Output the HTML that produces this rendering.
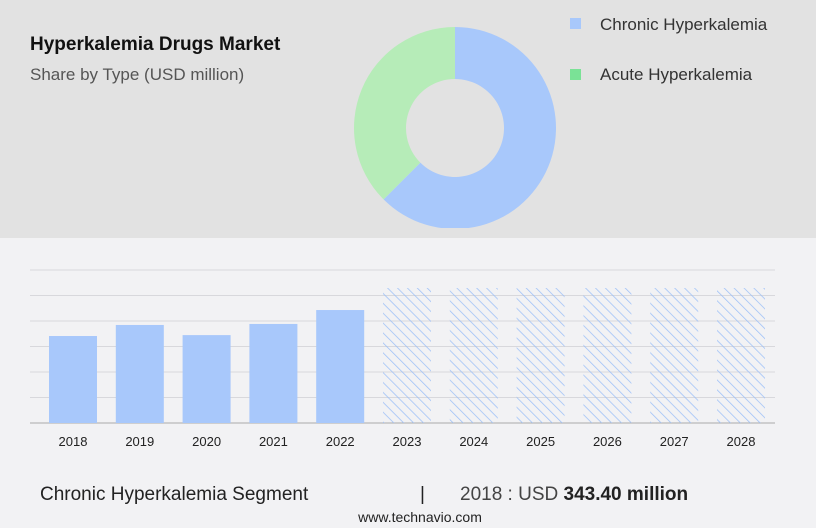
<!DOCTYPE html>
<html><head><meta charset="utf-8"><style>
body{margin:0;width:816px;height:528px;overflow:hidden;background:#f2f2f4;font-family:"Liberation Sans",sans-serif;}
#top{position:absolute;left:0;top:0;width:816px;height:238px;background:#e2e2e2;}
</style></head><body>
<div id="top"></div>
<svg width="816" height="528" style="position:absolute;left:0;top:0" id="svg">
<defs><pattern id="hatch" width="7" height="7" patternUnits="userSpaceOnUse" patternTransform="rotate(-45)"><line x1="0" y1="0" x2="0" y2="7" stroke="#9cbff8" stroke-width="1.5"/></pattern></defs>
<text x="30" y="50" font-size="19" font-weight="bold" fill="#111">Hyperkalemia Drugs Market</text>
<text x="30" y="80" font-size="17" fill="#555">Share by Type (USD million)</text>
<g id="donut"></g>
<rect x="570" y="18" width="11" height="11" fill="#a8c8fb"/>
<text x="600" y="30" font-size="17" fill="#333">Chronic Hyperkalemia</text>
<rect x="570" y="69" width="11" height="11" fill="#7ae296"/>
<text x="600" y="80" font-size="17" fill="#333">Acute Hyperkalemia</text>
<g id="grid"></g><g id="bars"></g>
<text x="40" y="500" font-size="19" fill="#222">Chronic Hyperkalemia Segment</text>
<text x="420" y="500" font-size="19" fill="#222">|</text>
<text x="460" y="500" font-size="19" fill="#444">2018 : USD  <tspan font-weight="bold" fill="#222">343.40 million</tspan></text>
<text x="420" y="522" font-size="14" fill="#222" text-anchor="middle">www.technavio.com</text>
</svg>
<script>
const years=["2018","2019","2020","2021","2022","2023","2024","2025","2026","2027","2028"];
const values=[343.4,387,347,391,446,533,533,533,533,533,533];
const forecast=[false,false,false,false,false,true,true,true,true,true,true];
const shareLabels=["Chronic Hyperkalemia","Acute Hyperkalemia"];
const shares=[62.5,37.5];
const NS="http://www.w3.org/2000/svg";
function mk(t,a,p){const e=document.createElementNS(NS,t);for(const k in a)e.setAttribute(k,a[k]);p.appendChild(e);return e;}
const y0=423,ymax=604,ph=153;
const ys=v=>y0-v/ymax*ph;
const xc=i=>73+i*66.8;
const grid=document.getElementById('grid');
for(let k=0;k<=6;k++){const y=y0-k*ph/6;const l=mk('line',{x1:30,x2:775,y1:y,y2:y,stroke:k?'#d8d8dc':'#aaa','stroke-width':1},grid);

}
const bars=document.getElementById('bars');
values.forEach((v,i)=>{const r=mk('rect',{x:xc(i)-24,y:ys(v),width:48,height:y0-ys(v),fill:forecast[i]?'url(#hatch)':'#a8c8fb'},bars);


const t=mk('text',{x:xc(i),y:446,'font-size':13,'text-anchor':'middle',fill:'#222'},bars);t.textContent=years[i];

});
const d=document.getElementById('donut');const cx=455,cy=128,R=101,r0=49;const cols=['#a8c8fb','#b6ecb8'];
let a=0;const tot=shares.reduce((s,x)=>s+x,0);
shares.forEach((s,i)=>{const a1=a+s/tot*2*Math.PI;const P=(rr,ang)=>[cx+rr*Math.sin(ang),cy-rr*Math.cos(ang)];const lg=a1-a>Math.PI?1:0;
const [x1,y1]=P(R,a),[x2,y2]=P(R,a1),[x3,y3]=P(r0,a1),[x4,y4]=P(r0,a);
const p=mk('path',{d:`M${x1},${y1}A${R},${R} 0 ${lg} 1 ${x2},${y2}L${x3},${y3}A${r0},${r0} 0 ${lg} 0 ${x4},${y4}Z`,fill:cols[i]},d);

a=a1;});
const clip=mk('rect',{x:340,y:228,width:240,height:10,fill:'#e2e2e2'},d);
</script>
</body></html>
